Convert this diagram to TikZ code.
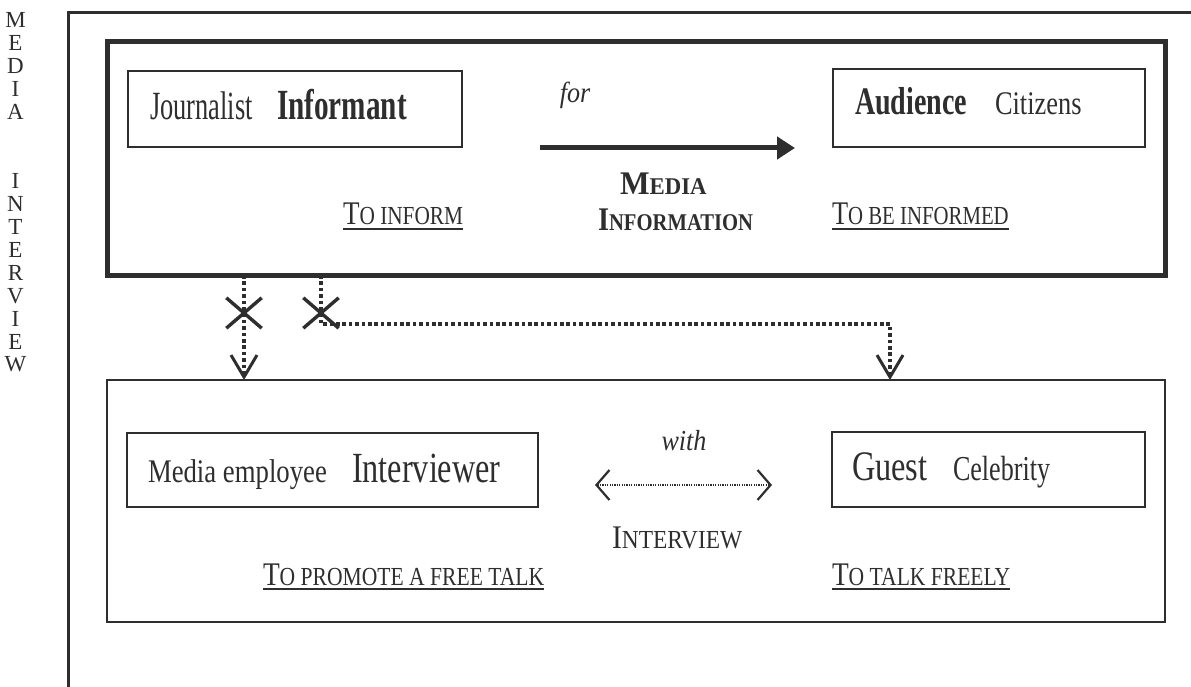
\documentclass[tikz,border=0pt]{standalone}
\usepackage{fontspec}
\setmainfont{Liberation Serif}
\usepackage{graphicx}
\usetikzlibrary{arrows.meta,shapes.misc}
\definecolor{ink}{HTML}{2E2E2E}
% horizontal squeeze for the condensed lettering
\newcommand\sq[2]{\scalebox{#1}[1]{#2}}
\newcommand\fs[1]{\fontsize{#1}{#1}\selectfont}
% hand-made small capitals: large initial, smaller rest
\newcommand\smcap[2]{{\fs{33}#1}{\fs{26}#2}}
\newcommand\smcapb[2]{{\fs{33}#1}{\fs{24}#2}}
\tikzset{
  box/.style={draw=ink, line width=2, inner sep=0, outer sep=0, anchor=north west},
  txt/.style={inner sep=0, outer sep=0, text=ink, anchor=base west},
  ulin/.style={draw=ink, line width=1.8},
  dotline/.style={draw=ink, line width=3.2, dash pattern=on 3.6pt off 2.8pt},
  vhead/.style={-{Straight Barb[length=22pt,width=26pt,line width=3pt]}},
  xmark/.style={cross out, draw=ink, line width=3.4, minimum width=32, minimum height=27, inner sep=0}
}
\begin{document}
\begin{tikzpicture}[x=1pt,y=-1pt]
\useasboundingbox (0,0) rectangle (1191,687);

% open outer frame
\draw[ink, line width=3] (68,687) -- (68,13) -- (1191,13);

% vertical title
\foreach \ch [count=\i from 0] in {M,E,D,I,A}
  \node[txt, anchor=base] (ta\i) at (15.5,28+22.93*\i) {\sq{1}{\fs{23}\ch}};
\foreach \ch [count=\i from 7] in {I,N,T,E,R,V,I,E,W}
  \node[txt, anchor=base] (tb\i) at (15.5,28+22.93*\i) {\sq{1}{\fs{23}\ch}};

% information block
\node[box, line width=5, minimum width=1058, minimum height=233] (infobox) at (107,42) {};
\node[box, minimum width=334, minimum height=76] (jbox) at (128,71) {};
\node[box, minimum width=312, minimum height=78] (abox) at (833,69) {};

\node[txt] (jn) at (150,120) {\sq{0.66}{\fs{40}Journalist}};
\node[txt] (inf) at (277,120) {\sq{0.68}{\fs{43}\bfseries Informant}};
\node[txt] (aud) at (855,115) {\sq{0.72}{\fs{39}\bfseries Audience}};
\node[txt] (cit) at (995,115) {\sq{0.80}{\fs{33}Citizens}};
\node[txt, anchor=base] (for) at (575,103) {\sq{0.9}{\fs{29}\itshape for}};
\node[txt] (med) at (620,195) {\sq{0.95}{\bfseries\smcapb{M}{EDIA}}};
\node[txt] (infn) at (598,230) {\sq{0.86}{\bfseries\smcapb{I}{NFORMATION}}};
\node[txt] (toinf) at (343,225) {\sq{0.82}{\smcap{T}{O INFORM}}};
\node[txt] (tobe) at (832,225) {\sq{0.80}{\smcap{T}{O BE INFORMED}}};
\draw[ulin] ([yshift=-4pt]toinf.base west) -- ([yshift=-4pt]toinf.base east);
\draw[ulin] ([yshift=-4pt]tobe.base west) -- ([yshift=-4pt]tobe.base east);

\draw[ink, line width=5, shorten <=78pt, shorten >=38pt,
      -{Triangle[length=18pt,width=22pt]}]
  ([yshift=-39pt]jbox.east) -- ([yshift=-39pt]jbox.east -| abox.west);

% interview block
\node[box, minimum width=1058, minimum height=242] (intbox) at (107,380) {};
\node[box, minimum width=411, minimum height=74] (ebox) at (127,433) {};
\node[box, minimum width=313, minimum height=75] (gbox) at (832,432) {};

\node[txt] (memp) at (148,482) {\sq{0.81}{\fs{33}Media employee}};
\node[txt] (intv) at (352,482) {\sq{0.75}{\fs{43}Interviewer}};
\node[txt] (gst) at (852,480) {\sq{0.77}{\fs{42}Guest}};
\node[txt] (cel) at (953,480) {\sq{0.745}{\fs{35}Celebrity}};
\node[txt, anchor=base] (with) at (684,450) {\sq{0.9}{\fs{29}\itshape with}};
\node[txt] (intw) at (612,548) {\sq{0.9}{\smcap{I}{NTERVIEW}}};
\node[txt] (promo) at (263,585) {\sq{0.83}{\smcap{T}{O PROMOTE A FREE TALK}}};
\node[txt] (talk) at (832,585) {\sq{0.83}{\smcap{T}{O TALK FREELY}}};
\draw[ulin] ([yshift=-4pt]promo.base west) -- ([yshift=-4pt]promo.base east);
\draw[ulin] ([yshift=-4pt]talk.base west) -- ([yshift=-4pt]talk.base east);

\draw[ink, line width=1.2, dash pattern=on 1.2pt off 1.2pt,
      shorten <=57pt, shorten >=60pt,
      {Straight Barb[length=13pt,width=30pt,line width=2.2pt]}-{Straight Barb[length=13pt,width=30pt,line width=2.2pt]}]
  ([yshift=-15pt]ebox.east) -- ([yshift=-15pt]ebox.east -| gbox.west);

% crossed-out links between the blocks
\node[xmark] (x1) at (244,313) {};
\node[xmark] (x2) at (321,313) {};
\coordinate (turn) at (890,324);
\draw[dotline, vhead] (infobox.south -| x1) -- (intbox.north -| x1);
\draw[dotline, vhead] (infobox.south -| x2) |- (turn) -- (intbox.north -| turn);
\end{tikzpicture}
\end{document}
